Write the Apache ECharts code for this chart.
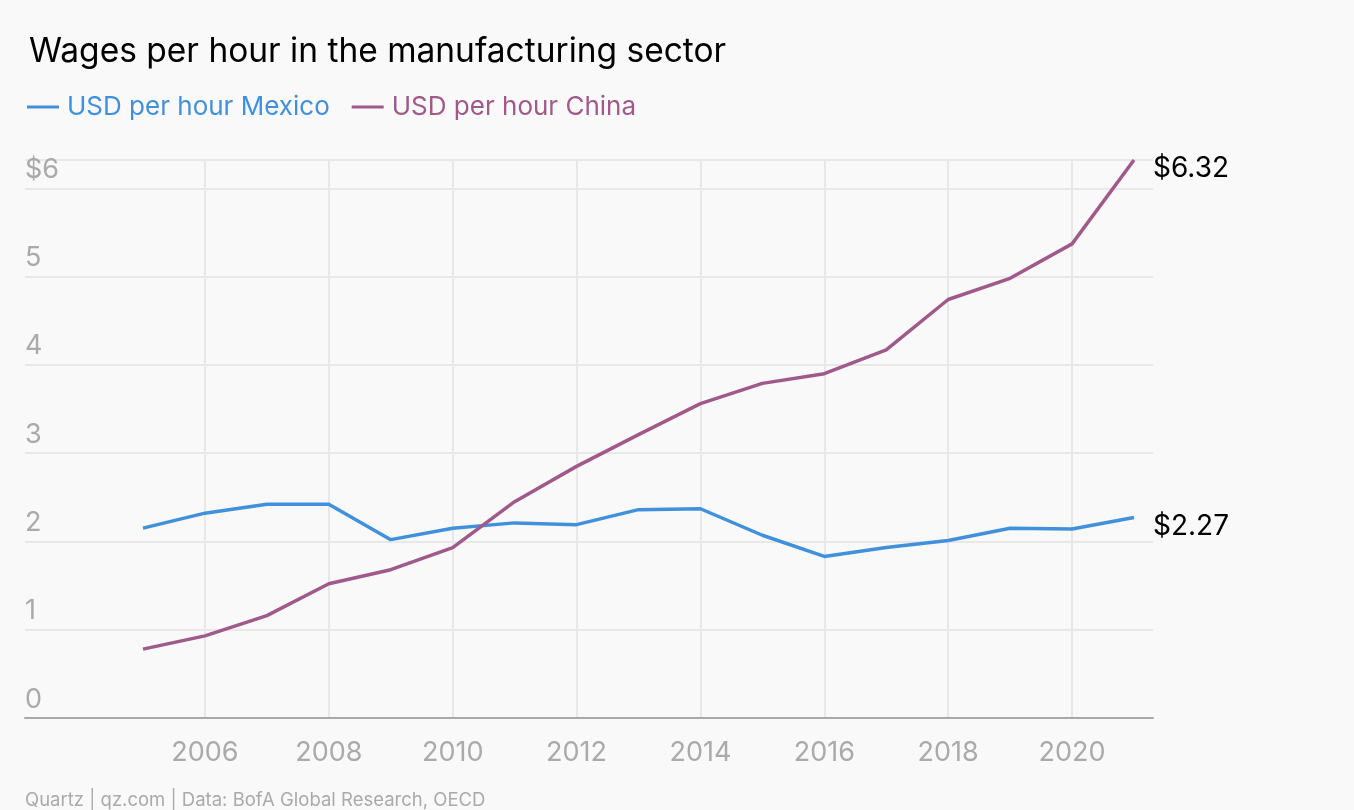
<!DOCTYPE html>
<html>
<head>
<meta charset="utf-8">
<script src="https://cdn.jsdelivr.net/npm/echarts@6/dist/echarts.min.js"></script>
<style>
html,body{margin:0;padding:0;background:#f9f9f9;}
#chart{width:1354px;height:810px;}
</style>
</head>
<body>
<div id="chart"></div>
<script>
const years = [2005,2006,2007,2008,2009,2010,2011,2012,2013,2014,2015,2016,2017,2018,2019,2020,2021];
const mexico = [2.15,2.32,2.42,2.42,2.02,2.15,2.21,2.19,2.36,2.37,2.07,1.83,1.93,2.01,2.15,2.14,2.27];
const china = [0.78,0.93,1.16,1.52,1.68,1.93,2.45,2.85,3.21,3.56,3.79,3.90,4.17,4.74,4.98,5.37,6.32];
const xTicks = [2006,2008,2010,2012,2014,2016,2018,2020];
const seriesNames = ['USD per hour Mexico','USD per hour China'];
const colors = ['#4190db','#a05a8a'];

const FONT = 'Inter, "Liberation Sans", sans-serif';
const chart = echarts.init(document.getElementById('chart'));
const mk = (vals) => years.map((y,i)=>[y, vals[i]]);
chart.setOption({
  backgroundColor:'#f9f9f9',
  animation:false,
  title:{
    text:'Wages per hour in the manufacturing sector',
    left:24, top:30,
    textStyle:{fontFamily:FONT, fontSize:33.5, fontWeight:'normal', color:'#000'}
  },
  legend:{
    left:22, top:89,
    icon:'rect', itemWidth:32, itemHeight:3, itemGap:22,
    textStyle:{fontFamily:FONT, fontSize:26, padding:[0,0,0,3]},
    data: seriesNames.map((n,i)=>({name:n, textStyle:{color:colors[i]}}))
  },
  graphic:[{
    type:'text', left:25, top:791,
    style:{text:'Quartz | qz.com | Data: BofA Global Research, OECD', fill:'#aaa', font:'18.5px ' + FONT}
  }],
  grid:{left:25, right:201, top:160, bottom:92},
  xAxis:{
    type:'value', min:2003.095, max:2021.307,
    axisLine:{show:true, lineStyle:{color:'#a8a8a8', width:2}},
    axisTick:{show:false, customValues:xTicks},
    axisLabel:{customValues:xTicks, color:'#aaa', fontFamily:FONT, fontSize:27, margin:21, formatter:v=>String(v)},
    splitLine:{show:true, lineStyle:{color:'#e8e8e8', width:2}}
  },
  yAxis:{
    type:'value', min:0, max:6.32, interval:1,
    axisLine:{show:false}, axisTick:{show:false},
    axisLabel:{inside:true, margin:0, verticalAlign:'bottom', padding:[0,0,5,0],
      color:'#aaa', fontFamily:FONT, fontSize:27,
      formatter:v=> v===6 ? '$6' : (Number.isInteger(v)? String(v) : '')},
    splitLine:{show:true, lineStyle:{color:'#e8e8e8', width:2}}
  },
  series: [mexico, china].map((vals,i)=>({
    name:seriesNames[i], type:'line', data:mk(vals), showSymbol:false, symbol:'none',
    lineStyle:{color:colors[i], width:3.5}, itemStyle:{color:colors[i]},
    endLabel:{show:true, distance:19, offset:[0,9], color:'#000', fontFamily:FONT, fontSize:28,
      formatter:p=>'$' + p.value[1].toFixed(2)}
  }))
});
</script>
</body>
</html>
